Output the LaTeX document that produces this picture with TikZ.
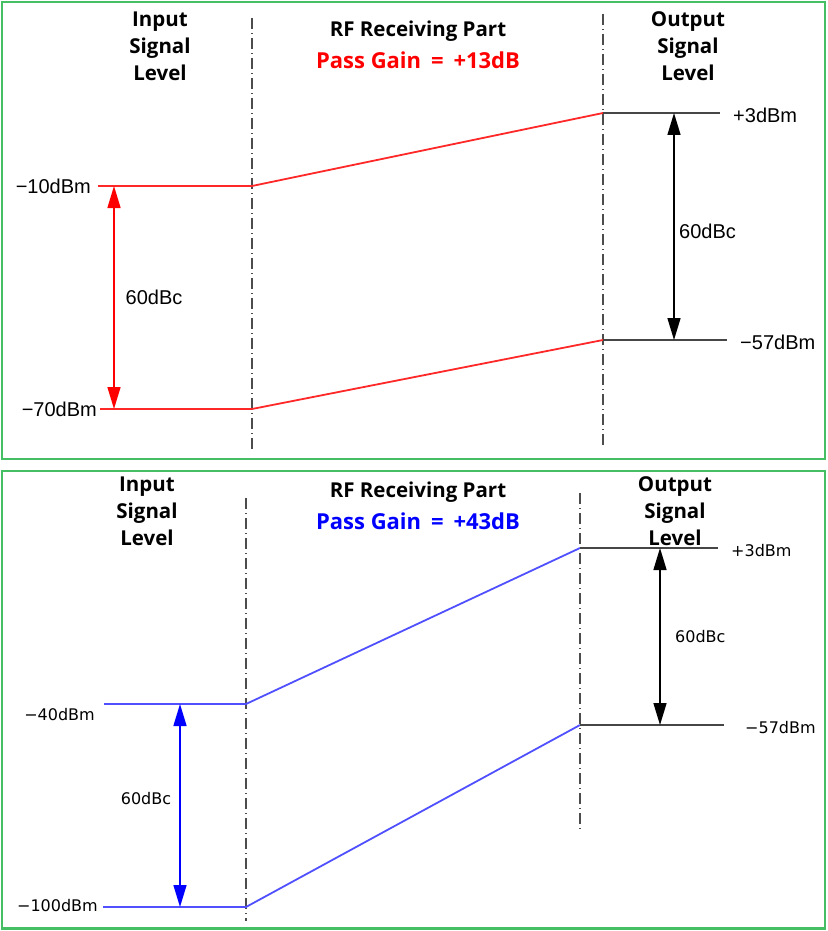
\documentclass[tikz,border=0pt]{standalone}
\usepackage{fontspec}
\setmainfont{Liberation Sans}
\newfontfamily\headfont{Open Sans}
\newfontfamily\smallfont{DejaVu Sans}
\usetikzlibrary{arrows.meta, positioning}

\definecolor{framegreen}{RGB}{70,190,100}
\definecolor{sigred}{RGB}{255,40,40}
\definecolor{sigblue}{RGB}{80,80,255}
\definecolor{levelgray}{RGB}{70,70,70}

\begin{document}
\begin{tikzpicture}[
            x=1pt, y=-1pt,
            frame/.style={draw=framegreen, line width=2.5pt},
            head/.style={font=\headfont\bfseries\fontsize{20.5}{27}\selectfont, align=center, inner sep=0pt},
            gain/.style={font=\headfont\bfseries\fontsize{22}{26}\selectfont, inner sep=0pt},
            stage/.style={draw=black!70, line width=1.3pt, dash pattern=on 11pt off 4pt on 1pt off 4pt},
            lvl/.style={draw=levelgray, line width=2.6pt},
            big/.style={font=\fontsize{20}{24}\selectfont, inner sep=0pt},
            small/.style={font=\smallfont\fontsize{16}{19}\selectfont, inner sep=0pt},
            span/.style={draw, line width=1.5pt, {Triangle[length=22pt,width=13pt]}-{Triangle[length=22pt,width=13pt]}}
        ]
            \useasboundingbox (0,0) rectangle (827,931);

            % Frames
            \draw [frame] (2,2) rectangle (825,459);
            \draw [frame] (2,471) rectangle (825,928.5);

            % ---------- Top: +13dB ----------
            \node [head] (tin) at (160,46) {Input\\Signal\\Level};
            \node [head] (tout) at (688,46) {Output\\Signal\\Level};
            \node [head] (trf) at (418,31) {RF Receiving  Part};
            \node [gain, text=red, below=10pt of trf] (tgain) {Pass Gain\hspace{0.45em}=\hspace{0.45em}+13dB};

            \coordinate (tsa) at (252,18);  \coordinate (tsb) at (252,450);
            \coordinate (tsc) at (603,14);  \coordinate (tsd) at (603,446);
            \draw [stage] (tsa) -- (tsb);
            \draw [stage] (tsc) -- (tsd);

            \coordinate (tinhi) at (98,186);   \coordinate (tmidhi) at (252,186);
            \coordinate (tinlo) at (100,409);  \coordinate (tmidlo) at (252,409);
            \coordinate (touthi) at (603,113); \coordinate (tendhi) at (720,113);
            \coordinate (toutlo) at (603,340); \coordinate (tendlo) at (727,340);

            \draw [sigred, line width=1.8pt] (tinhi) -- (tmidhi) -- (touthi);
            \draw [sigred, line width=1.8pt] (tinlo) -- (tmidlo) -- (toutlo);
            \draw [lvl] (touthi) -- (tendhi);
            \draw [lvl] (toutlo) -- (tendlo);

            \node [big, anchor=east] (tlhi) at (91,186) {−10dBm};
            \node [big, anchor=east] (tllo) at (97,409) {−70dBm};
            \node [big, anchor=west] (trhi) at (733,115) {+3dBm};
            \node [big, anchor=west] (trlo) at (740,342) {−57dBm};

            \draw [span, red] (114,186) -- (114,409);
            \node [big] (tdl) at (154,297) {60dBc};
            \draw [span, black] (674,113) -- (674,340);
            \node [big, anchor=west] (tdr) at (679,231) {60dBc};

            % ---------- Bottom: +43dB ----------
            \node [head] (bin) at (147,511) {Input\\Signal\\Level};
            \node [head] (bout) at (675,511) {Output\\Signal\\Level};
            \node [head] (brf) at (418,492) {RF Receiving  Part};
            \node [gain, text=blue, below=10pt of brf] (bgain) {Pass Gain\hspace{0.45em}=\hspace{0.45em}+43dB};

            \coordinate (bsa) at (246,498); \coordinate (bsb) at (246,921);
            \coordinate (bsc) at (580,493); \coordinate (bsd) at (580,830);
            \draw [stage] (bsa) -- (bsb);
            \draw [stage] (bsc) -- (bsd);

            \coordinate (binhi) at (104,704);  \coordinate (bmidhi) at (246,704);
            \coordinate (binlo) at (103,907);  \coordinate (bmidlo) at (246,907);
            \coordinate (bouthi) at (580,548); \coordinate (bendhi) at (718,548);
            \coordinate (boutlo) at (580,725); \coordinate (bendlo) at (724,725);

            \draw [sigblue, line width=1.8pt] (binhi) -- (bmidhi) -- (bouthi);
            \draw [sigblue, line width=1.8pt] (binlo) -- (bmidlo) -- (boutlo);
            \draw [lvl] (bouthi) -- (bendhi);
            \draw [lvl] (boutlo) -- (bendlo);

            \node [small, anchor=east] (blhi) at (95,715) {−40dBm};
            \node [small, anchor=east] (bllo) at (98,906) {−100dBm};
            \node [small, anchor=west] (brhi) at (731,551) {+3dBm};
            \node [small, anchor=west] (brlo) at (745,728) {−57dBm};

            \draw [span, blue] (180,704) -- (180,907);
            \node [small] (bdl) at (146,799) {60dBc};
            \draw [span, black] (660,548) -- (660,725);
            \node [small, anchor=west] (bdr) at (675,637) {60dBc};
        \end{tikzpicture}
\end{document}
